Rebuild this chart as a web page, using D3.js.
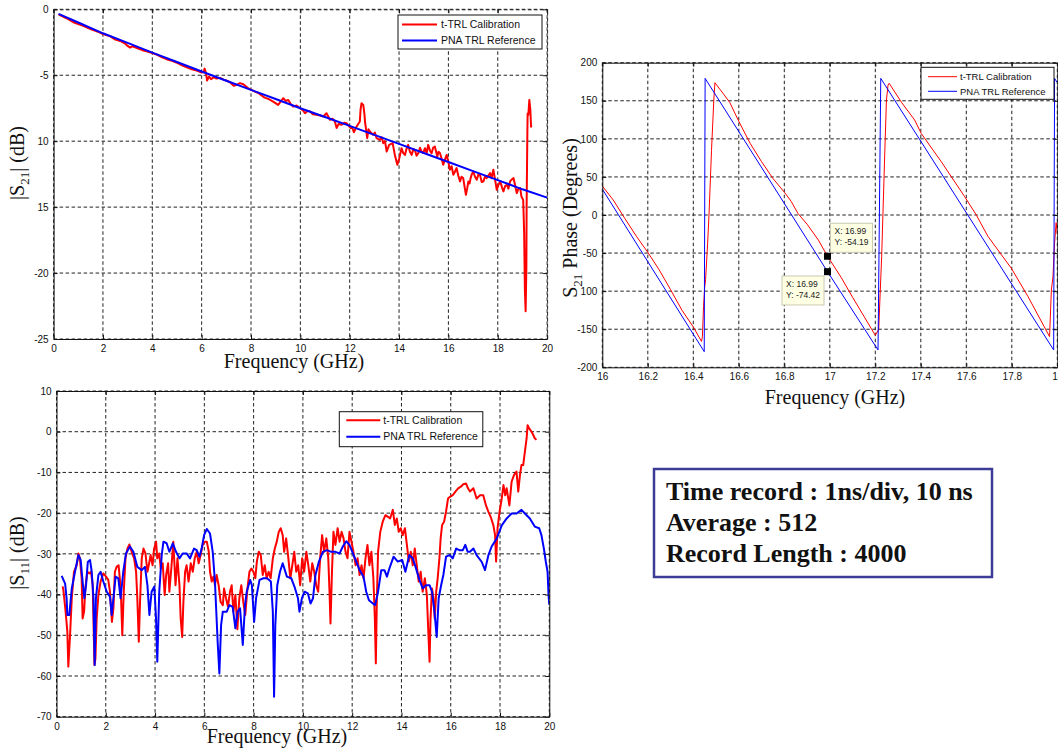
<!DOCTYPE html>
<html>
<head>
<meta charset="utf-8">
<script src="https://cdn.jsdelivr.net/npm/d3@7/dist/d3.min.js"></script>
<style>
  body { margin: 0; background: #fff; }
  svg { display: block; }
</style>
</head>
<body>
<svg id="chart" width="1058" height="751"></svg>
<script>
// ---------- |S21| magnitude (dB) ----------
const s21RefGHz = [0.2, 1, 2, 3, 4, 5, 6, 7, 8, 9, 10, 11, 12, 13, 14, 15, 16, 17, 18, 19, 20];
const s21RefDb = [-0.35, -1.0, -1.82, -2.55, -3.28, -4.0, -4.72, -5.42, -6.11, -6.8, -7.5, -8.17, -8.84, -9.52, -10.2, -10.9, -11.58, -12.27, -12.95, -13.65, -14.28];

const s21CalGHz = [0.2, 0.5, 0.8, 1.0, 1.2, 1.5, 1.8, 2.0, 2.3, 2.5, 2.7, 2.9, 3.0, 3.1, 3.2, 3.4, 3.6, 3.8, 4.0, 4.2, 4.4, 4.6, 4.8, 5.0, 5.2, 5.4, 5.6, 5.8, 6.0, 6.08, 6.12, 6.18, 6.22, 6.3, 6.38, 6.5, 6.6, 6.75, 6.9, 7.0, 7.15, 7.3, 7.42, 7.55, 7.69, 7.8, 7.89,
  8.16, 8.3, 8.43, 8.55, 8.7, 8.9, 9.1, 9.2, 9.31, 9.4, 9.51, 9.6, 9.71, 9.85, 9.98, 10.1, 10.19, 10.3, 10.39, 10.5, 10.66, 10.8, 10.93, 11.06, 11.2, 11.3, 11.4, 11.47, 11.55, 11.67, 11.78, 11.87, 11.95, 12.04, 12.1, 12.17, 12.28, 12.41, 12.44, 12.48, 12.55, 12.6, 12.62, 12.71, 12.76, 12.82, 12.95, 13.02, 13.09, 13.22, 13.3, 13.36, 13.43, 13.5, 13.6, 13.74, 13.83, 13.93, 14.01, 14.1, 14.17, 14.24, 14.3, 14.37, 14.44, 14.51, 14.58, 14.64, 14.71, 14.78, 14.85, 14.91, 14.98, 15.05, 15.12, 15.18, 15.25, 15.32, 15.38, 15.45, 15.55, 15.6, 15.66, 15.72, 15.79, 15.86, 15.93, 16.0, 16.06, 16.13, 16.2, 16.27, 16.33, 16.4, 16.47, 16.53, 16.6, 16.66, 16.71, 16.76, 16.81, 16.86, 16.9, 16.95, 17.01, 17.08, 17.15, 17.22, 17.28, 17.35, 17.42, 17.48, 17.55, 17.62, 17.69, 17.75, 17.82, 17.89, 17.96, 18.03, 18.1, 18.17, 18.23, 18.3, 18.37, 18.43, 18.5, 18.57, 18.64, 18.7, 18.77, 18.84, 18.91, 18.96, 19.03, 19.05, 19.07, 19.1, 19.13, 19.16, 19.17, 19.2, 19.21, 19.24, 19.28, 19.32, 19.35, 19.37];
const s21CalDb = [-0.38, -0.66, -0.98, -1.12, -1.25, -1.5, -1.7, -1.88, -2.05, -2.3, -2.4, -2.6, -2.78, -2.9, -2.8, -2.95, -3.1, -3.2, -3.32, -3.45, -3.65, -3.8, -3.9, -4.05, -4.25, -4.4, -4.55, -4.65, -4.8, -4.75, -4.5, -4.85, -5.4, -5.1, -5.3, -5.15, -5.25, -5.2, -5.35, -5.4, -5.53, -5.8, -5.73, -5.6, -5.68, -5.85, -5.99,
  -6.24, -6.35, -6.54, -6.7, -6.79, -7.0, -7.25, -7.0, -6.74, -6.95, -6.87, -7.15, -7.38, -7.3, -7.5, -7.65, -7.88, -7.7, -7.75, -7.95, -8.0, -8.05, -8.13, -7.88, -8.38, -8.3, -8.51, -9.0, -8.7, -8.76, -8.6, -8.63, -8.8, -9.0, -8.95, -9.32, -8.89, -8.51, -7.6, -7.12, -7.25, -8.0, -8.51, -9.77, -9.1, -9.27, -9.52, -9.35, -9.77, -9.9, -9.7, -10.15, -10.0, -10.78, -10.28, -10.15, -11.04, -11.79, -11.29, -10.53, -10.9, -11.04, -10.6, -10.28, -10.8, -11.04, -10.6, -10.66, -11.1, -10.91, -10.5, -10.78, -10.9, -10.53, -10.9, -10.28, -10.7, -10.91, -10.5, -10.4, -11.16, -10.8, -10.91, -11.3, -11.79, -11.4, -11.04, -11.6, -12.17, -11.9, -12.55, -12.3, -12.04, -12.6, -13.05, -12.7, -12.8, -13.5, -14.06, -13.6, -13.05, -13.2, -12.8, -12.5, -12.3, -12.7, -12.93, -12.5, -12.55, -13.1, -13.05, -12.7, -12.8, -12.6, -12.42, -12.8, -12.17, -12.9, -13.68, -13.3, -13.05, -13.5, -13.81, -13.4, -13.3, -13.6, -13.05, -12.9, -12.8, -13.3, -13.94, -13.6, -13.56, -14.2, -14.45, -15.6, -16.97, -21.3, -22.9, -19.5, -14.95, -9.4, -7.9, -8.0, -6.87, -7.6, -8.9, -8.8];

// ---------- |S11| magnitude (dB) ----------
const s11CalGHz = [0.25, 0.28, 0.37, 0.44, 0.48, 0.55, 0.62, 0.71, 0.82, 0.89, 0.95, 1.02, 1.06, 1.12, 1.17, 1.25, 1.33, 1.4, 1.47, 1.54, 1.58, 1.63, 1.7, 1.79, 1.9, 2.01, 2.1, 2.17, 2.25, 2.31, 2.37, 2.44, 2.52, 2.58, 2.62, 2.67, 2.73, 2.8, 2.88, 2.96, 3.05, 3.15, 3.23, 3.28, 3.34, 3.39, 3.46, 3.53, 3.61, 3.69, 3.76, 3.82, 3.9, 3.96, 4.04, 4.09, 4.17, 4.23, 4.31, 4.39, 4.45, 4.53, 4.58, 4.66, 4.74, 4.83, 4.91, 4.99, 5.04, 5.1, 5.15, 5.22, 5.28, 5.36, 5.45, 5.53, 5.61, 5.69, 5.77, 5.85, 5.93, 6.03, 6.1, 6.18, 6.23, 6.3, 6.37, 6.43, 6.5, 6.58, 6.66, 6.75, 6.8, 6.88, 6.96, 7.04, 7.11, 7.18, 7.26, 7.34, 7.42, 7.5, 7.58, 7.66, 7.75, 7.83, 7.91, 7.99, 8.07, 8.13, 8.21, 8.29, 8.37, 8.45, 8.53, 8.61, 8.69, 8.78, 8.86, 8.94, 9.02, 9.1, 9.18, 9.24, 9.32, 9.41, 9.49, 9.57, 9.65, 9.73, 9.81, 9.89, 9.97, 10.05, 10.14, 10.22, 10.3, 10.38, 10.46, 10.54, 10.62, 10.7, 10.78, 10.86, 10.95, 11.03, 11.08, 11.12, 11.18, 11.24, 11.32, 11.41, 11.49, 11.57, 11.65, 11.73, 11.81, 11.89, 11.97, 12.05, 12.14, 12.22, 12.3, 12.38, 12.46, 12.54, 12.62, 12.7, 12.78, 12.86, 12.92, 12.96, 13.0, 13.05, 13.14, 13.24, 13.35, 13.45, 13.54, 13.65, 13.73, 13.81, 13.89, 13.97, 14.05, 14.14, 14.22, 14.3, 14.38, 14.46, 14.54, 14.62, 14.7, 14.78, 14.86, 14.95, 15.03, 15.09, 15.14, 15.18, 15.24, 15.3, 15.35, 15.41, 15.47, 15.54, 15.59, 15.65, 15.73, 15.81, 15.89, 15.97, 16.08, 16.19, 16.3, 16.41, 16.51, 16.62, 16.7, 16.78, 16.92, 17.05, 17.19, 17.32, 17.43, 17.53, 17.62, 17.73, 17.8, 17.84, 17.9, 17.98, 18.07, 18.14, 18.21, 18.27, 18.38, 18.47, 18.57, 18.67, 18.74, 18.81, 18.87, 18.94, 19.01, 19.08, 19.12, 19.18, 19.28, 19.35, 19.41, 19.48];
const s11CalDb = [-38, -38.9, -44.2, -49.1, -57.7, -50, -40.9, -34.4, -32.8, -29.9, -31.1, -36, -45.9, -44.2, -38.5, -34.4, -34.8, -34.4, -37.7, -57.3, -55.7, -45.9, -40.1, -36.8, -34.8, -35.6, -36.4, -39.3, -46.7, -43.4, -34.4, -33.2, -32.8, -36.8, -40.9, -50, -39.3, -31.1, -28.7, -27.7, -29.5, -31.1, -34.4, -40.9, -51.6, -41.8, -31.1, -28.7, -29.9, -34.4, -32.3, -30.3, -32.8, -28.8, -27, -31.1, -29.9, -33.6, -32.3, -40.1, -35.2, -32.3, -39.3, -33.6, -27, -37.7, -31.1, -37.7, -45.9, -50.4, -41.8, -34.4, -32.8, -36.8, -32.3, -34.4, -31.1, -29.5, -32.3, -30.3, -27.8, -27, -27, -29.5, -34.4, -36.8, -35.6, -37.7, -35.2, -37.7, -41.8, -42.6, -38.5, -40.9, -43, -39.3, -37.7, -44.2, -40.1, -48.5, -40.9, -37.7, -41.8, -45, -38.5, -34.4, -33.6, -34.4, -36, -31.9, -29.5, -30.3, -35.2, -32.8, -36, -34.4, -36, -31.1, -28.7, -27, -24.6, -23.7, -25.4, -29.5, -26.2, -31.1, -36, -32.8, -29.5, -34.4, -32.8, -37.7, -31.1, -34.4, -29.5, -32.8, -36.8, -32.3, -34.4, -37.7, -39.3, -31.1, -25.4, -29.5, -26.2, -31.1, -39.3, -47.1, -34.4, -24.6, -27.8, -23.7, -27, -24.6, -26.2, -29.5, -31.1, -24.6, -27, -29.5, -32.8, -31.1, -35.2, -32.8, -36, -31.1, -27.8, -32.8, -29.5, -36, -45.9, -56.9, -41.8, -29.5, -24.6, -22.1, -20.5, -20.9, -21.3, -19.2, -22.9, -21.3, -24.6, -23.7, -25.4, -23.7, -27.8, -31.9, -29.5, -32.8, -28.7, -32.8, -36.8, -34.4, -39.3, -36, -40.1, -49.1, -56.5, -45.9, -38.5, -40.9, -45.9, -39.3, -36, -31.1, -26.2, -22.9, -22.1, -19.6, -16.4, -16, -15.6, -14.7, -13.9, -13.5, -12.9, -12.7, -13.9, -14.7, -13.9, -16.4, -15.6, -15.6, -18.1, -19.7, -20.9, -23, -25.4, -31.9, -23.7, -19.7, -16.4, -13.1, -15.6, -13.9, -18.1, -12.3, -10.6, -9.8, -14.7, -10.6, -8.2, -8.2, -4.9, -1.6, 1.6, 0.8, 0, -0.8, -1.6, -2.0];

const s11RefGHz = [0.21, 0.35, 0.41, 0.44, 0.52, 0.62, 0.75, 0.89, 0.98, 1.06, 1.13, 1.2, 1.27, 1.36, 1.43, 1.5, 1.55, 1.6, 1.7, 1.79, 1.9, 2.04, 2.17, 2.24, 2.31, 2.4, 2.51, 2.6, 2.71, 2.82, 2.98, 3.12, 3.28, 3.46, 3.59, 3.69, 3.77, 3.86, 3.97, 4.04, 4.09, 4.17, 4.27, 4.34, 4.47, 4.58, 4.72, 4.85, 4.99, 5.12, 5.28, 5.42, 5.58, 5.69, 5.8, 5.89, 5.99, 6.1, 6.23, 6.34, 6.43, 6.54, 6.61, 6.68, 6.75, 6.91, 7.02, 7.15, 7.26, 7.35, 7.45, 7.56, 7.65, 7.72, 7.86, 7.93, 8.02, 8.1, 8.24, 8.4, 8.54, 8.7, 8.78, 8.83, 8.88, 8.96, 9.07, 9.18, 9.35, 9.53, 9.66, 9.8, 9.86, 9.96, 10.07, 10.2, 10.31, 10.41, 10.51, 10.65, 10.81, 10.97, 11.15, 11.32, 11.49, 11.62, 11.76, 11.89, 12.03, 12.19, 12.3, 12.46, 12.57, 12.68, 12.84, 12.93, 13.04, 13.18, 13.31, 13.41, 13.51, 13.68, 13.85, 14.03, 14.16, 14.32, 14.46, 14.59, 14.73, 14.86, 15.0, 15.14, 15.24, 15.34, 15.43, 15.51, 15.61, 15.7, 15.81, 15.95, 16.08, 16.22, 16.35, 16.49, 16.59, 16.69, 16.78, 16.92, 17.05, 17.26, 17.39, 17.53, 17.66, 17.87, 18.07, 18.27, 18.47, 18.67, 18.87, 19.01, 19.21, 19.41, 19.59, 19.68, 19.78, 19.86, 19.93, 19.97, 20.0];
const s11RefDb = [-35.4, -37.3, -40.9, -45, -45, -38.5, -34.4, -30.3, -31.5, -36.8, -40.9, -37.7, -32, -31.5, -34.4, -40.9, -57.3, -40.9, -35.2, -34.4, -36.8, -39.3, -40.5, -45, -40.9, -35.6, -36, -40.9, -34.4, -29.9, -28.2, -29.5, -33.2, -34, -33.2, -37.7, -45, -39.3, -38, -45.9, -56.5, -39.3, -30.3, -27, -27.4, -29.5, -27.4, -29.5, -31.1, -29.9, -29.9, -31.1, -28.7, -29.1, -30.7, -28.7, -25.4, -23.9, -25, -29.5, -36.8, -51.6, -59.4, -47.5, -44.2, -44.2, -42.6, -43, -48.3, -44.2, -43.4, -52.4, -42.6, -39.3, -36.4, -37.7, -46.7, -40.9, -36.4, -36, -36, -36.8, -44.2, -65.1, -47.5, -37.7, -34.4, -32.3, -35.6, -36, -38.1, -40.9, -44.2, -40.9, -39.3, -39.7, -42.2, -40.9, -35.2, -31.9, -29.5, -29.1, -29.5, -29.5, -29.9, -28.2, -26.9, -27.8, -29.9, -32.3, -34, -35.6, -39.3, -41.4, -42.2, -42.6, -39.7, -34, -34, -35.6, -33.6, -30.7, -31.9, -31.5, -34.4, -30.3, -31.1, -33.6, -36.4, -38.5, -37.7, -37.7, -39.3, -44.2, -50.4, -40.9, -37.7, -35.2, -30.7, -30.3, -31.1, -28.7, -29.1, -29.1, -27.8, -29.5, -29.5, -28.7, -30.3, -32, -34, -30.3, -28.2, -26.2, -23, -21.3, -20.1, -20.1, -19.2, -20.1, -21.3, -23.3, -23.7, -25.4, -28.7, -32, -34.4, -40.2, -42.5];

// ---------- S21 phase (degrees), 16-18 GHz ----------
const phaseCalGHz = [16.0, 16.048, 16.1, 16.15, 16.2, 16.25, 16.3, 16.35, 16.4, 16.436, 16.44, 16.445, 16.45, 16.454, 16.463, 16.469, 16.48, 16.49, 16.495, 16.53, 16.56, 16.6, 16.65, 16.7, 16.75, 16.8, 16.83, 16.86, 16.9, 16.95, 16.99, 17.05, 17.1, 17.15, 17.2, 17.215, 17.222, 17.228, 17.242, 17.249, 17.256, 17.261, 17.315, 17.373, 17.402, 17.49, 17.593, 17.644, 17.695, 17.798, 17.871, 17.966, 17.974, 17.981, 17.988, 17.995, 18.0];
const phaseCalDeg = [38.1, 19.7, -5, -28, -49, -72, -98, -125, -147, -166, -160, -120, -95, -85, -37, 0, 85, 150, 173.7, 160, 148, 123, 94, 70, 48, 30, 18, 2, -12, -33, -54.19, -82, -108, -133, -158, -150, -98.5, -54.7, 85, 151, 170.7, 172.9, 148, 124.7, 107, 70, 24, 0, -28, -70, -107, -159.7, -98.5, -81, -37, -10, -25];

const phaseRefGHz = [16.0, 16.448, 16.452, 16.99, 17.212, 17.224, 17.6, 17.984, 17.988, 18.0];
const phaseRefDeg = [34.0, -179.4, 179.4, -74.42, -177.2, 179.4, 3.0, -177.2, 179.4, 173.8];

// data cursor read-outs on the phase plot
const cursorGHz = [16.99, 16.99];
const cursorDeg = [-54.19, -74.42];

// ---------- tick labels ----------
const s21XTicks = [0, 2, 4, 6, 8, 10, 12, 14, 16, 18, 20];
const s21YTicks = [0, -5, -10, -15, -20, -25];
const s21YLabels = ["0", "-5", "10", "15", "-20", "-25"];
const s11YTicks = [10, 0, -10, -20, -30, -40, -50, -60, -70];
const s11YLabels = ["10", "0", "-10", "-20", "-30", "-40", "-50", "-60", "-70"];
const phaseXTicks = [16, 16.2, 16.4, 16.6, 16.8, 17, 17.2, 17.4, 17.6, 17.8, 18];
const phaseXLabels = ["16", "16.2", "16.4", "16.6", "16.8", "17", "17.2", "17.4", "17.6", "17.8", "18"];
const phaseYTicks = [200, 150, 100, 50, 0, -50, -100, -150, -200];
const phaseYLabels = ["200", "150", "100", "50", "0", "-50", "100", "-150", "-200"];

const legendNames = ["t-TRL Calibration", "PNA TRL Reference"];
const infoLines = ["Time record : 1ns/div, 10 ns", "Average : 512", "Record Length : 4000"];

const RED = "#ff0000", BLUE = "#0000ff";
const SANS = "'Liberation Sans', Arial, sans-serif";
const SERIF = "'Liberation Serif', 'Times New Roman', serif";

const svg = d3.select("#chart");

function zip(xs, ys) { return xs.map((x, i) => [x, ys[i]]); }

function drawPanel(p) {
  const g = svg.append("g");
  const x = d3.scaleLinear().domain(p.xDomain).range([p.left, p.right]);
  const y = d3.scaleLinear().domain(p.yDomain).range([p.bottom, p.top]);

  // dashed grid
  const grid = g.append("g").attr("stroke", "#222").attr("stroke-width", 1)
    .attr("stroke-dasharray", "3.5,2.5").attr("fill", "none");
  grid.selectAll("line.v").data(p.xTicks).join("line")
    .attr("x1", d => x(d)).attr("x2", d => x(d)).attr("y1", p.top).attr("y2", p.bottom);
  grid.selectAll("line.h").data(p.yTicks).join("line").attr("class", "h")
    .attr("y1", d => y(d)).attr("y2", d => y(d)).attr("x1", p.left).attr("x2", p.right);

  // traces
  const clipId = "clip" + p.id;
  svg.append("clipPath").attr("id", clipId).append("rect")
    .attr("x", p.left).attr("y", p.top - 1).attr("width", p.right - p.left).attr("height", p.bottom - p.top + 2);
  const line = d3.line().x(d => x(d[0])).y(d => y(d[1]));
  const tg = g.append("g").attr("clip-path", `url(#${clipId})`);
  p.series.forEach(s => {
    tg.append("path").datum(zip(s.xs, s.ys)).attr("d", line)
      .attr("fill", "none").attr("stroke", s.color).attr("stroke-width", p.lineWidth)
      .attr("stroke-linejoin", "round");
  });

  // axes with inward ticks
  const fmtX = (d, i) => p.xLabels[i];
  const fmtY = (d, i) => p.yLabels[i];
  const bottom = g.append("g").attr("transform", `translate(0,${p.bottom})`)
    .call(d3.axisBottom(x).tickValues(p.xTicks).tickFormat(fmtX).tickSizeInner(-4).tickSizeOuter(0).tickPadding(6));
  const left = g.append("g").attr("transform", `translate(${p.left},0)`)
    .call(d3.axisLeft(y).tickValues(p.yTicks).tickFormat(fmtY).tickSizeInner(-4).tickSizeOuter(0).tickPadding(5));
  const top = g.append("g").attr("transform", `translate(0,${p.top})`)
    .call(d3.axisTop(x).tickValues(p.xTicks).tickFormat("").tickSizeInner(-4).tickSizeOuter(0));
  const right = g.append("g").attr("transform", `translate(${p.right},0)`)
    .call(d3.axisRight(y).tickValues(p.yTicks).tickFormat("").tickSizeInner(-4).tickSizeOuter(0));
  [bottom, left, top, right].forEach(a => {
    a.selectAll("text").attr("font-family", SANS).attr("font-size", 10).attr("fill", "#111");
    a.selectAll("line").attr("stroke", "#111");
    a.select(".domain").attr("stroke", "#111");
  });
  if (p.dashedTopRight) {
    [top, right].forEach(a => a.select(".domain").attr("stroke-dasharray", "3.5,2.5").attr("stroke", "#222"));
  }

  // legend
  const L = p.legend;
  g.append("rect").attr("x", L.x).attr("y", L.y).attr("width", L.w).attr("height", L.h)
    .attr("fill", "#fff").attr("stroke", "#111").attr("stroke-width", 1);
  p.series.forEach((s, i) => {
    const ly = L.y + L.row0 + i * L.rowGap;
    g.append("line").attr("x1", L.x + L.lx0).attr("x2", L.x + L.lx1).attr("y1", ly).attr("y2", ly)
      .attr("stroke", s.color).attr("stroke-width", p.lineWidth);
    g.append("text").attr("x", L.x + L.tx).attr("y", ly).attr("dy", "0.35em")
      .attr("font-family", SANS).attr("font-size", L.fs).attr("fill", "#111").text(legendNames[i]);
  });

  // axis titles
  g.append("text").attr("x", p.xTitle[0]).attr("y", p.xTitle[1]).attr("text-anchor", "middle")
    .attr("font-family", SERIF).attr("font-size", 20).attr("fill", "#111").text("Frequency (GHz)");
  const yt = g.append("text")
    .attr("transform", `translate(${p.yTitle[0]},${p.yTitle[1]}) rotate(-90)`)
    .attr("text-anchor", "middle").attr("font-family", SERIF).attr("font-size", 20).attr("fill", "#111");
  yt.append("tspan").text(p.yTitleParts[0]);
  yt.append("tspan").attr("font-size", 13).attr("dy", 5).text(p.yTitleParts[1]);
  yt.append("tspan").attr("dy", -5).text(p.yTitleParts[2]);

  return { g, x, y };
}

// |S21| magnitude panel
drawPanel({
  id: 1, left: 53.6, right: 547.1, top: 9.3, bottom: 339,
  xDomain: [0, 20], yDomain: [-25, 0],
  xTicks: s21XTicks, xLabels: s21XTicks.map(String), yTicks: s21YTicks, yLabels: s21YLabels,
  series: [{ xs: s21CalGHz, ys: s21CalDb, color: RED }, { xs: s21RefGHz, ys: s21RefDb, color: BLUE }],
  lineWidth: 2, dashedTopRight: true,
  legend: { x: 398, y: 15, w: 144, h: 34, row0: 9.5, rowGap: 16, lx0: 4, lx1: 39, tx: 43, fs: 10.5 },
  xTitle: [294, 368], yTitle: [24, 163], yTitleParts: ["|S", "21", "| (dB)"]
});

// |S11| magnitude panel
drawPanel({
  id: 3, left: 56.5, right: 549.3, top: 391, bottom: 716.7,
  xDomain: [0, 20], yDomain: [-70, 10],
  xTicks: s21XTicks, xLabels: s21XTicks.map(String), yTicks: s11YTicks, yLabels: s11YLabels,
  series: [{ xs: s11CalGHz, ys: s11CalDb, color: RED }, { xs: s11RefGHz, ys: s11RefDb, color: BLUE }],
  lineWidth: 2, dashedTopRight: false,
  legend: { x: 339.3, y: 411.7, w: 143.5, h: 35, row0: 8.5, rowGap: 16.5, lx0: 7, lx1: 41, tx: 44, fs: 10.5 },
  xTitle: [277, 743], yTitle: [24, 553], yTitleParts: ["|S", "11", "| (dB)"]
});

// S21 phase panel
const ph = drawPanel({
  id: 2, left: 602.3, right: 1057.3, top: 62.7, bottom: 367.3,
  xDomain: [16, 18], yDomain: [-200, 200],
  xTicks: phaseXTicks, xLabels: phaseXLabels, yTicks: phaseYTicks, yLabels: phaseYLabels,
  series: [{ xs: phaseCalGHz, ys: phaseCalDeg, color: RED }, { xs: phaseRefGHz, ys: phaseRefDeg, color: BLUE }],
  lineWidth: 1, dashedTopRight: false,
  legend: { x: 921, y: 67.3, w: 133, h: 32, row0: 9.4, rowGap: 14.6, lx0: 7, lx1: 36, tx: 39, fs: 9.5 },
  xTitle: [835, 404], yTitle: [577, 218], yTitleParts: ["S", "21", " Phase (Degrees)"]
});

// data cursors
const tipOffsets = [[3, -33], [-45.5, 4.3]];
cursorGHz.forEach((f, i) => {
  const cx = ph.x(f), cy = ph.y(cursorDeg[i]);
  const bx = cx + tipOffsets[i][0], by = cy + tipOffsets[i][1];
  ph.g.append("rect").attr("x", bx).attr("y", by).attr("width", 42).attr("height", 29)
    .attr("fill", "#ffffe4").attr("stroke", "#c9c9b2").attr("stroke-width", 1);
  ph.g.append("text").attr("x", bx + 4).attr("y", by + 11).attr("font-family", SANS)
    .attr("font-size", 8.5).attr("fill", "#222").text("X: " + f.toFixed(2));
  ph.g.append("text").attr("x", bx + 4).attr("y", by + 22).attr("font-family", SANS)
    .attr("font-size", 8.5).attr("fill", "#222").text("Y: " + cursorDeg[i].toFixed(2));
});
ph.g.selectAll("rect.marker").data(cursorGHz).join("rect").attr("class", "marker")
  .attr("x", (d) => ph.x(d) - 3.5).attr("y", (d, i) => ph.y(cursorDeg[i]) - 3.5)
  .attr("width", 7).attr("height", 7).attr("fill", "#000");

// acquisition settings box
svg.append("rect").attr("x", 654).attr("y", 469).attr("width", 338).attr("height", 108)
  .attr("fill", "#fff").attr("stroke", "#3c3c96").attr("stroke-width", 2.5);
svg.selectAll("text.info").data(infoLines).join("text").attr("class", "info")
  .attr("x", 666).attr("y", (d, i) => 500 + i * 31)
  .attr("font-family", SERIF).attr("font-weight", "bold").attr("font-size", 26).attr("fill", "#111")
  .text(d => d);
</script>
</body>
</html>
